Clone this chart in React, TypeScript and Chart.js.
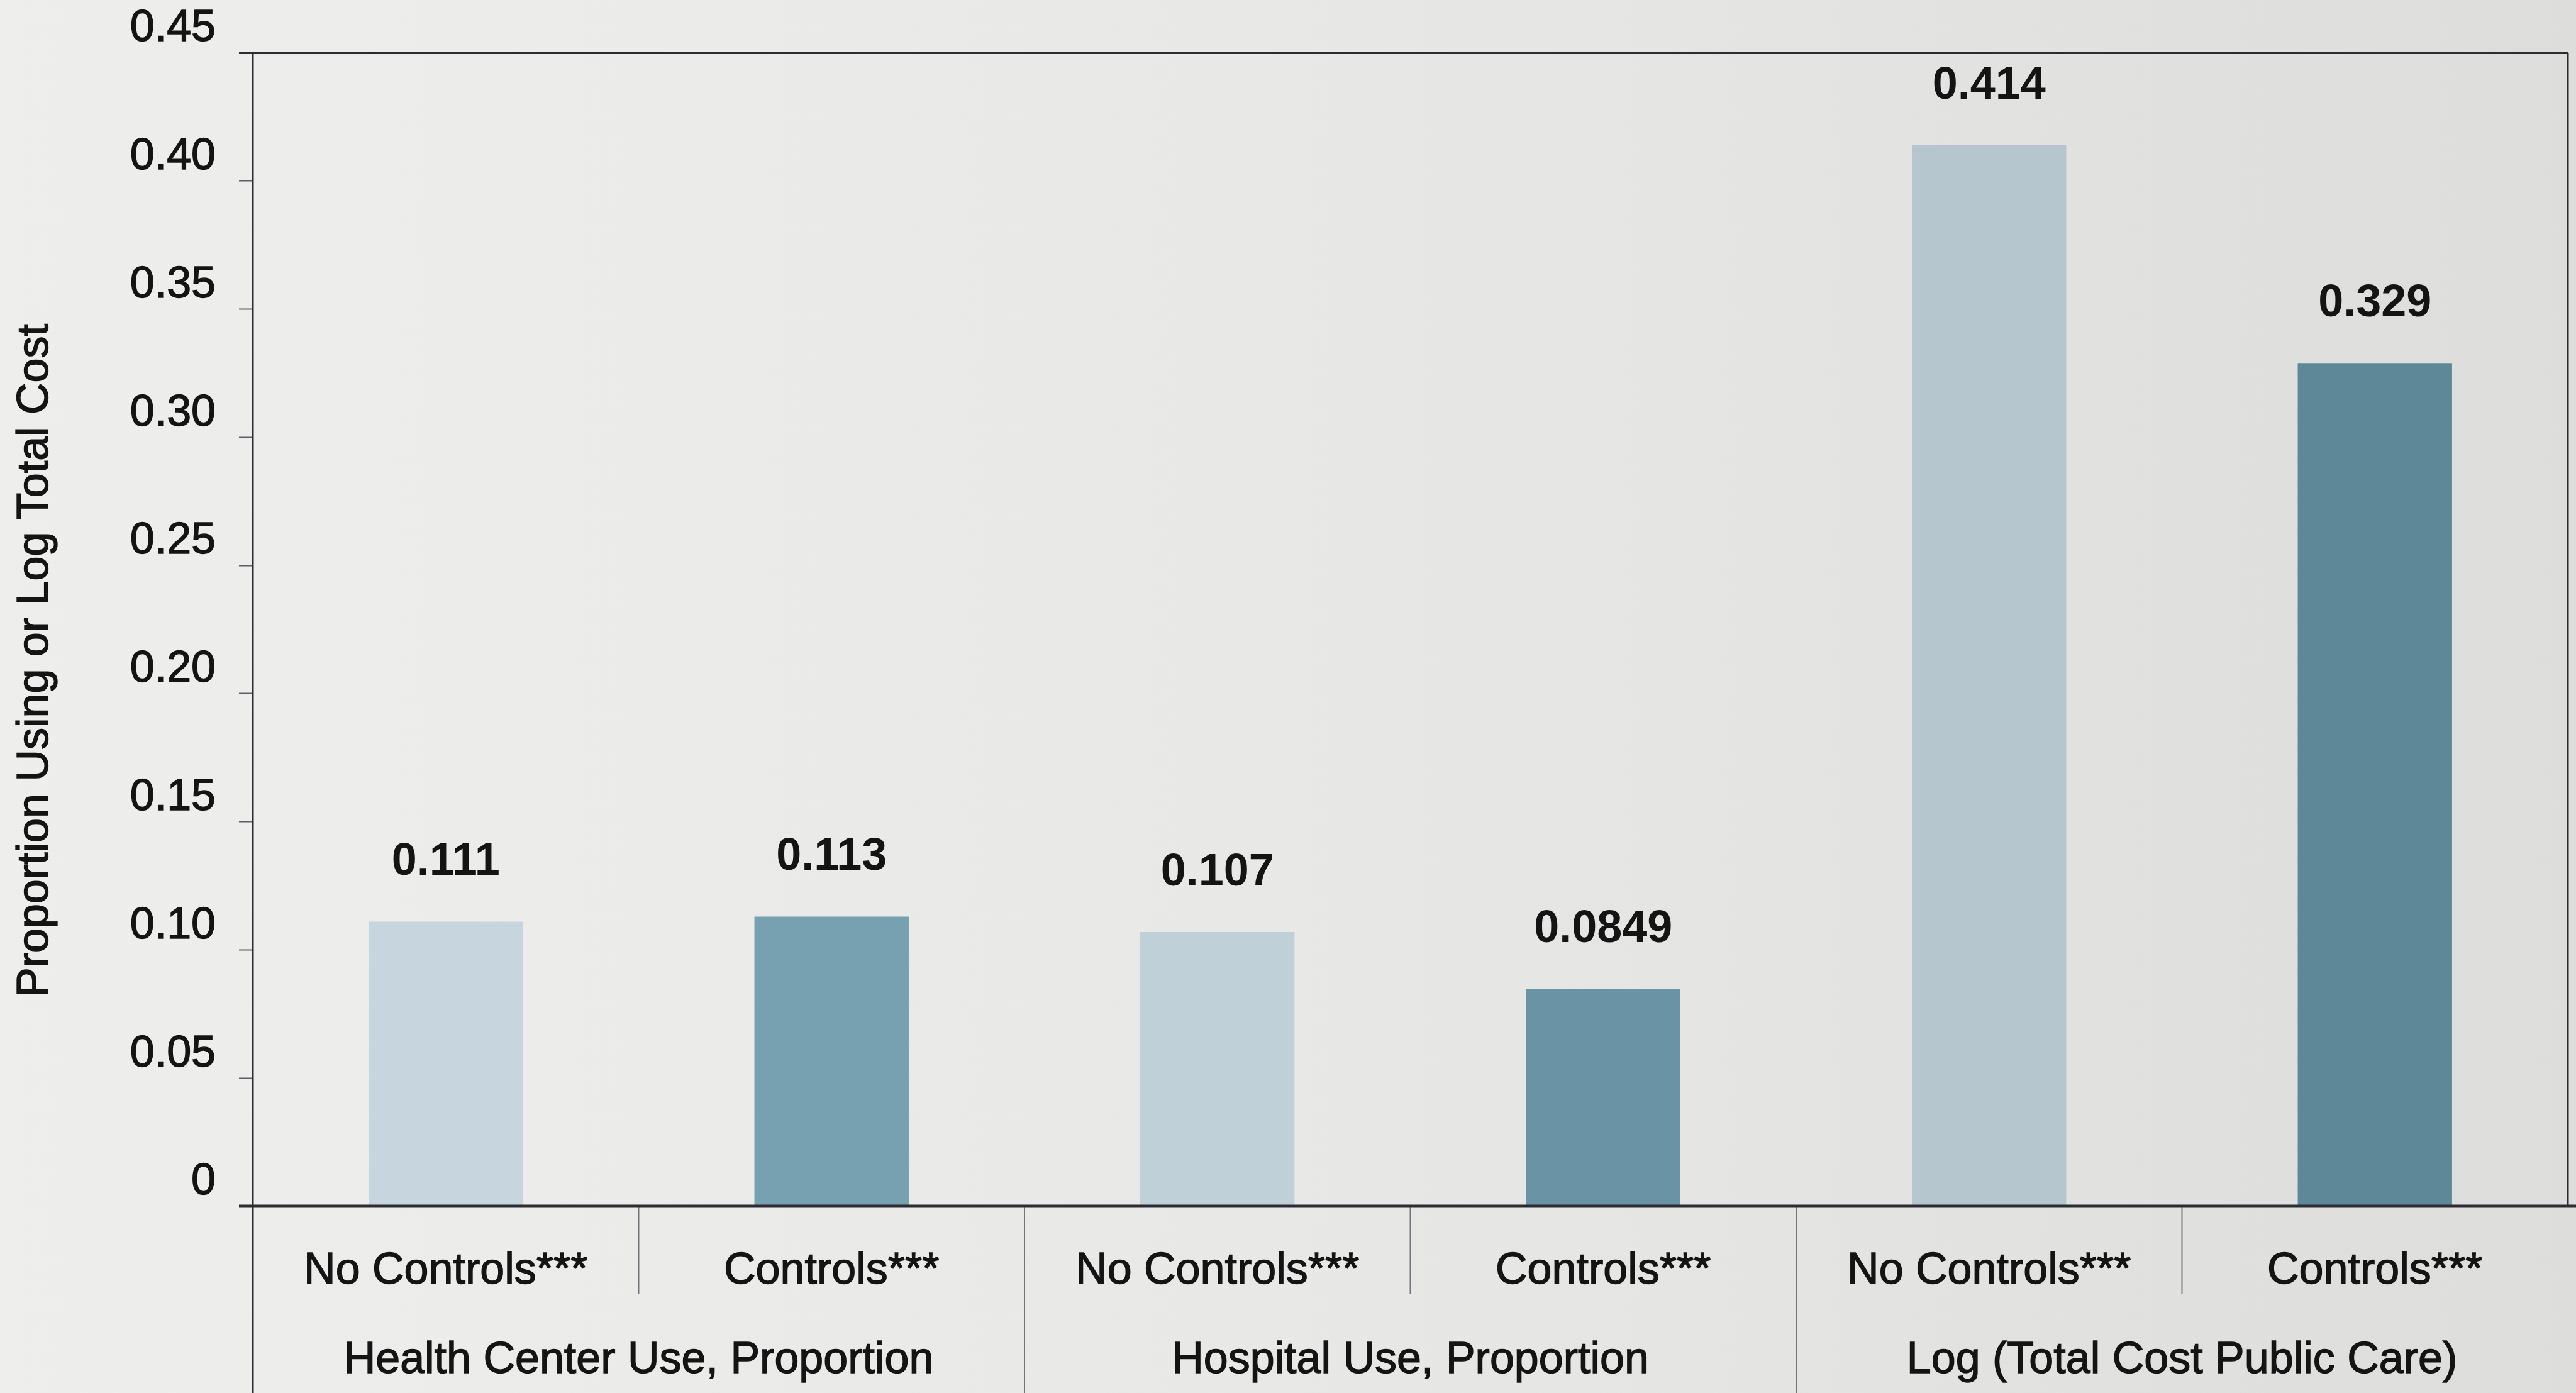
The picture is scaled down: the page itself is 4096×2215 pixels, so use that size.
import React, { useEffect, useRef } from 'react';
import { Chart, registerables } from 'chart.js';

Chart.register(...registerables);

// Bar categories (first row of the x axis) and the groups they belong to (second row)
const categories = ['No Controls***', 'Controls***', 'No Controls***', 'Controls***', 'No Controls***', 'Controls***'];
const groups = ['Health Center Use, Proportion', 'Hospital Use, Proportion', 'Log (Total Cost Public Care)'];

// Estimated effect for each bar
const values = [0.111, 0.113, 0.107, 0.0849, 0.414, 0.329];

// Y axis tick labels, one per 0.05 step
const yTickLabels = ['0', '0.05', '0.10', '0.15', '0.20', '0.25', '0.30', '0.35', '0.40', '0.45'];
const yTitle = 'Proportion Using or Log Total Cost';

// Light bars = no controls, dark bars = with controls
const barColors = ['#c6d5de', '#77a0b1', '#c0d0d9', '#6a94a5', '#b5c6cf', '#5e8898'];

const FONT = '"Liberation Sans", Arial, Helvetica, sans-serif';
const INK = '#141414';
const AXIS = '#2c2c32';
const TEXT_SIZE = 70;

const drawText = (ctx: CanvasRenderingContext2D, s: string, x: number, y: number) => {
  ctx.lineWidth = 1.4;
  ctx.strokeStyle = INK;
  ctx.strokeText(s, x, y);
  ctx.fillText(s, x, y);
};

const decorations = {
  id: 'decorations',
  afterDatasetsDraw(chart: any) {
    const { ctx } = chart;
    const meta = chart.getDatasetMeta(0);
    ctx.save();
    ctx.fillStyle = INK;
    ctx.font = `bold 72px ${FONT}`;
    ctx.textAlign = 'center';
    ctx.textBaseline = 'middle';
    meta.data.forEach((bar: any, i: number) => {
      ctx.fillText(String(values[i]), bar.x, bar.y - 94);
    });
    ctx.restore();
  },
  afterDraw(chart: any) {
    const { ctx, chartArea: a, scales } = chart;
    const x = scales.x;
    const W = chart.width;
    const H = chart.height;
    const line = (x1: number, y1: number, x2: number, y2: number) => {
      ctx.beginPath();
      ctx.moveTo(x1, y1);
      ctx.lineTo(x2, y2);
      ctx.stroke();
    };
    ctx.save();

    // separators between the category cells below the axis
    const boundary = (i: number) => (x.getPixelForValue(i - 1) + x.getPixelForValue(i)) / 2;
    ctx.strokeStyle = '#74747a';
    ctx.lineWidth = 2;
    for (let i = 1; i < categories.length; i++) {
      const bx = boundary(i);
      const full = i % 2 === 0;
      line(bx, a.bottom, bx, full ? H : a.bottom + 140);
    }

    // left axis runs down through the label rows
    ctx.strokeStyle = AXIS;
    ctx.lineWidth = 3;
    line(a.left, a.top - 2, a.left, H);

    // top and right border of the plot
    ctx.lineWidth = 4;
    line(a.left - 22, a.top, a.right + 1, a.top);
    ctx.lineWidth = 3;
    line(a.right, a.top, a.right, a.bottom);

    // baseline
    ctx.lineWidth = 5;
    line(a.left - 22, a.bottom, W, a.bottom);

    // group labels, centred under each pair of bars
    ctx.fillStyle = INK;
    ctx.font = `${TEXT_SIZE}px ${FONT}`;
    ctx.textAlign = 'center';
    ctx.textBaseline = 'middle';
    groups.forEach((g, k) => {
      const cx = (x.getPixelForValue(2 * k) + x.getPixelForValue(2 * k + 1)) / 2;
      drawText(ctx, g, cx, 2164);
    });

    // y axis title
    ctx.translate(57, 1050);
    ctx.rotate(-Math.PI / 2);
    ctx.font = `${TEXT_SIZE}px ${FONT}`;
    drawText(ctx, yTitle, 0, 0);

    ctx.restore();
  },
};

export default function App() {
  const canvasRef = useRef<HTMLCanvasElement | null>(null);

  useEffect(() => {
    document.body.style.margin = '0';
    const canvas = canvasRef.current;
    if (!canvas) return;
    const chart = new Chart(canvas, {
      type: 'bar',
      data: {
        labels: categories,
        datasets: [
          {
            data: values,
            backgroundColor: barColors,
            borderWidth: 0,
            barPercentage: 0.4,
            categoryPercentage: 1,
          },
        ],
      },
      options: {
        animation: false,
        responsive: false,
        devicePixelRatio: 1,
        layout: { padding: { top: 84, right: 13, left: 0, bottom: 0 } },
        plugins: {
          legend: { display: false },
          tooltip: { enabled: false },
          title: { display: false },
        },
        scales: {
          x: {
            type: 'category',
            grid: { display: false, drawTicks: false },
            border: { display: false },
            ticks: {
              autoSkip: false,
              maxRotation: 0,
              minRotation: 0,
              padding: 62,
              color: INK,
              textStrokeColor: INK,
              textStrokeWidth: 1.4,
              font: { family: FONT, size: TEXT_SIZE },
            },
            afterFit: (s: any) => {
              s.height = 2215 - 1918;
            },
          },
          y: {
            min: 0,
            max: 0.45,
            grid: {
              display: true,
              drawOnChartArea: false,
              drawTicks: true,
              tickLength: 22,
              tickColor: '#5e5e64',
              tickWidth: 2,
            },
            border: { display: false },
            ticks: {
              stepSize: 0.05,
              padding: 37,
              labelOffset: -38,
              color: INK,
              textStrokeColor: INK,
              textStrokeWidth: 1.4,
              font: { family: FONT, size: TEXT_SIZE },
              callback: (v: any) => yTickLabels[Math.round(Number(v) / 0.05)],
            },
            afterFit: (s: any) => {
              s.width = 402;
            },
          },
        },
      },
      plugins: [decorations],
    });
    return () => chart.destroy();
  }, []);

  return (
    <div
      style={{
        position: 'absolute',
        left: 0,
        top: 0,
        width: 4096,
        height: 2215,
        background: 'linear-gradient(90deg, #eeeeed 0%, #e8e9e7 50%, #dddedc 100%)',
        overflow: 'hidden',
      }}
    >
      <canvas ref={canvasRef} width={4096} height={2215} style={{ display: 'block' }} />
    </div>
  );
}
